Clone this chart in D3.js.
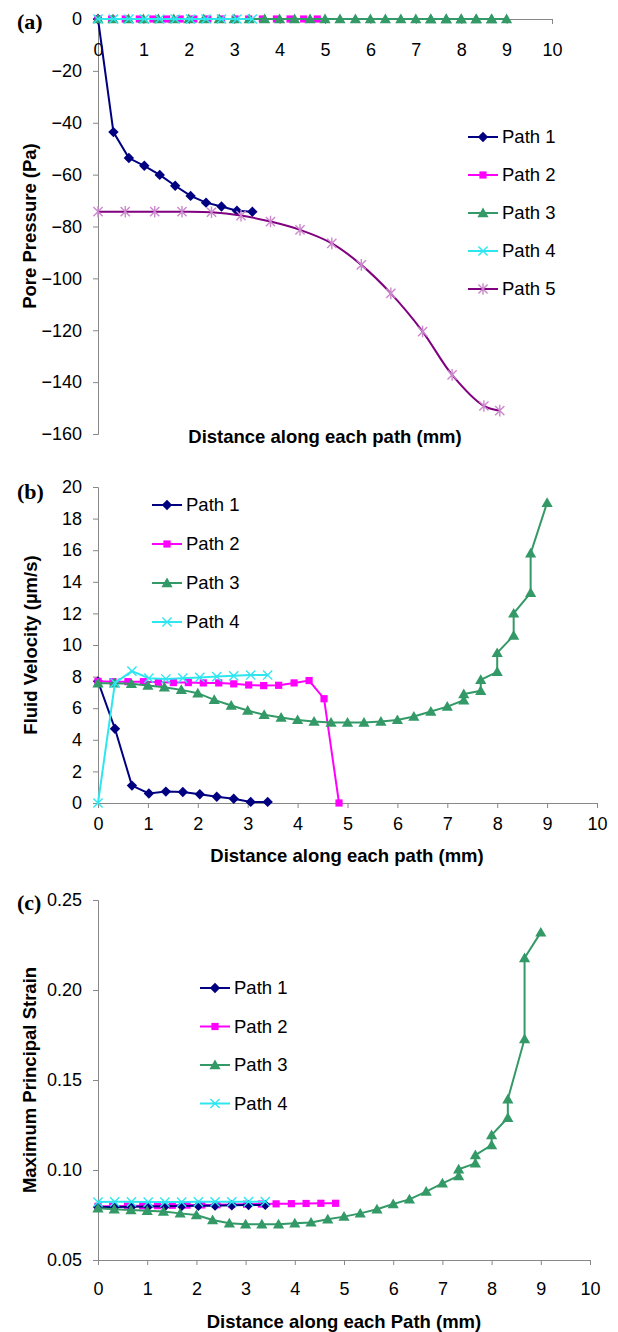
<!DOCTYPE html>
<html lang="en">
<head>
<meta charset="utf-8">
<title>Pore pressure, fluid velocity and strain along paths</title>
<script src="https://d3js.org/d3.v7.min.js"></script>
<style>
  body { margin: 0; background: #fff; }
  text { font-family: "Liberation Sans", Arial, sans-serif; fill: #000; }
  .axis path, .axis line { stroke: #888; stroke-width: 1; fill: none; }
  .axis text { font-size: 18px; }
  .title { font-size: 18.5px; font-weight: bold; }
  .legend text { font-size: 18.5px; }
  .panel { font-family: "Liberation Serif", "Times New Roman", serif; font-size: 22px; font-weight: bold; }
</style>
</head>
<body>
<script>
// distances along each path (mm)
var dist1 = [0, 0.34, 0.68, 1.02, 1.36, 1.7, 2.04, 2.38, 2.72, 3.06, 3.4];
var dist2 = [0, 0.3, 0.6, 0.91, 1.21, 1.51, 1.81, 2.11, 2.42, 2.72, 3.02, 3.32, 3.62, 3.93, 4.23, 4.53, 4.83];
var dist3 = [0, 0.33, 0.67, 1, 1.33, 1.67, 2, 2.33, 2.67, 3, 3.33, 3.67, 4, 4.33, 4.67, 5, 5.33, 5.67, 6, 6.33, 6.67, 7,
             7.33, 7.33, 7.67, 7.67, 8, 8, 8.33, 8.33, 8.67, 8.67, 9];
var dist4 = [0, 0.34, 0.68, 1.02, 1.36, 1.7, 2.04, 2.38, 2.72, 3.06, 3.4];
var dist5 = [0, 0.6, 1.25, 1.85, 2.5, 3.15, 3.8, 4.45, 5.15, 5.8, 6.45, 7.15, 7.8, 8.5, 8.85];

// (a) pore pressure (Pa)
var pressure1 = [0, -43.6, -53.6, -56.6, -60.1, -64.3, -68.2, -70.8, -72.3, -73.9, -74.3];
var pressure2 = [0, 0, 0, 0, 0, 0, 0, 0, 0, 0, 0, 0, 0, 0, 0, 0, 0];
var pressure3 = [0, 0, 0, 0, 0, 0, 0, 0, 0, 0, 0, 0, 0, 0, 0, 0, 0, 0, 0, 0, 0, 0, 0, 0, 0, 0, 0, 0, 0, 0, 0, 0, 0];
var pressure4 = [0, 0, 0, 0, 0, 0, 0, 0, 0, 0, 0];
var pressure5 = [-74.3, -74.3, -74.3, -74.3, -74.5, -75.8, -78.1, -81.3, -86.5, -94.8, -105.8, -120.5, -137.2, -149.2, -151.0];

// (b) fluid velocity (um/s)
var velocity1 = [7.7, 4.7, 1.1, 0.6, 0.72, 0.7, 0.55, 0.4, 0.27, 0.07, 0.07];
var velocity2 = [7.7, 7.68, 7.68, 7.68, 7.64, 7.62, 7.62, 7.6, 7.6, 7.54, 7.47, 7.43, 7.45, 7.6, 7.75, 6.6, 0];
var velocity3 = [7.58, 7.58, 7.54, 7.43, 7.33, 7.16, 6.95, 6.53, 6.17, 5.85, 5.58, 5.41, 5.26, 5.16, 5.09, 5.09, 5.09,
                 5.16, 5.26, 5.47, 5.79, 6.1, 6.5, 6.9, 7.1, 7.8, 8.3, 9.5, 10.6, 12.0, 13.3, 15.8, 19.0];
var velocity4 = [0, 7.6, 8.35, 7.9, 7.85, 7.9, 7.95, 8.0, 8.05, 8.1, 8.1];

// (c) maximum principal strain
var strain1 = [0.0795, 0.0795, 0.0796, 0.0797, 0.0798, 0.08, 0.0801, 0.0802, 0.0804, 0.0805, 0.0806];
var strain2 = [0.0798, 0.0799, 0.08, 0.0801, 0.0802, 0.0804, 0.0805, 0.0806, 0.0807, 0.0808, 0.081, 0.0811, 0.0812,
               0.0813, 0.0814, 0.0815, 0.0815];
var strain3 = [0.0787, 0.0782, 0.0778, 0.0774, 0.0769, 0.0759, 0.075, 0.0722, 0.0704, 0.0698, 0.0698, 0.0698, 0.0704,
               0.0709, 0.0726, 0.0741, 0.0759, 0.0782, 0.0811, 0.0837, 0.088, 0.0926, 0.0967, 0.1004, 0.1037, 0.1083,
               0.1139, 0.1194, 0.129, 0.1393, 0.1728, 0.2178, 0.232];
var strain4 = [0.0822, 0.0823, 0.0823, 0.0822, 0.0822, 0.0822, 0.0823, 0.0823, 0.0823, 0.0824, 0.0824];

var xTicks = [0, 1, 2, 3, 4, 5, 6, 7, 8, 9, 10];
var pressureTicks = [0, -20, -40, -60, -80, -100, -120, -140, -160];
var velocityTicks = [0, 2, 4, 6, 8, 10, 12, 14, 16, 18, 20];
var strainTicks = [0.05, 0.10, 0.15, 0.20, 0.25];
var pathNames = ["Path 1", "Path 2", "Path 3", "Path 4", "Path 5"];

// series look, Excel style
var styles = [
  { color: "#000080", marker: "diamond" },
  { color: "#ff00ff", marker: "square" },
  { color: "#339966", marker: "triangle" },
  { color: "#2ee6f0", marker: "cross" },
  { color: "#800080", marker: "star", markColor: "#cc88cc", smooth: true }
];

var svg = d3.select("body").append("svg")
  .attr("width", 618)
  .attr("height", 1332);

var markerPaths = {
  diamond: "M0,-5.2L5.2,0L0,5.2L-5.2,0Z",
  square: "M-3.6,-3.6h7.2v7.2h-7.2Z",
  triangle: "M0,-5.5L5.6,4.2L-5.6,4.2Z",
  cross: "M-4.6,-4.6L4.6,4.6M-4.6,4.6L4.6,-4.6",
  star: "M-4.6,-4.6L4.6,4.6M-4.6,4.6L4.6,-4.6M0,-5.8V5.8"
};

function drawMarker(g, st, x, y) {
  var p = g.append("path")
    .attr("d", markerPaths[st.marker])
    .attr("transform", "translate(" + x + "," + y + ")");
  if (st.marker == "cross" || st.marker == "star") {
    p.attr("fill", "none").attr("stroke", st.markColor || st.color).attr("stroke-width", 1.4);
  } else {
    p.attr("fill", st.color).attr("stroke", "none");
  }
}

function drawSeries(g, xs, ys, st, x, y) {
  var pts = xs.map(function(d, i) { return [d, ys[i]]; });
  var line = d3.line()
    .x(function(d) { return x(d[0]); })
    .y(function(d) { return y(d[1]); });
  if (st.smooth) line.curve(d3.curveCatmullRom.alpha(0.5));
  g.append("path")
    .attr("d", line(pts))
    .attr("fill", "none")
    .attr("stroke", st.color)
    .attr("stroke-width", 2);
  var mg = g.append("g");
  pts.forEach(function(d) { drawMarker(mg, st, x(d[0]), y(d[1])); });
}

function drawLegend(count, lx, ly, step) {
  var lg = svg.append("g").attr("class", "legend");
  for (var i = 0; i < count; i++) {
    var yy = ly + i * step;
    lg.append("line")
      .attr("x1", lx).attr("x2", lx + 30)
      .attr("y1", yy).attr("y2", yy)
      .attr("stroke", styles[i].color).attr("stroke-width", 2);
    drawMarker(lg, styles[i], lx + 15, yy);
    lg.append("text")
      .attr("x", lx + 34).attr("y", yy)
      .attr("dy", "0.35em")
      .text(pathNames[i]);
  }
}

function yTitle(txt, cx, cy) {
  svg.append("text")
    .attr("class", "title")
    .attr("transform", "translate(" + cx + "," + cy + ") rotate(-90)")
    .attr("text-anchor", "middle")
    .text(txt);
}

function xTitle(txt, cx, by) {
  svg.append("text")
    .attr("class", "title")
    .attr("x", cx).attr("y", by)
    .attr("text-anchor", "middle")
    .text(txt);
}

function panelLabel(txt, x, y) {
  svg.append("text").attr("class", "panel").attr("x", x).attr("y", y).text(txt);
}

// ---------- (a) pore pressure ----------
var xA = d3.scaleLinear().domain([0, 10]).range([98, 552]);
var yA = d3.scaleLinear().domain([-160, 0]).range([434, 19]);

svg.append("g").attr("class", "axis")
  .attr("transform", "translate(98,0)")
  .call(d3.axisLeft(yA).tickValues(pressureTicks).tickSizeOuter(0).tickSize(5).tickPadding(11));
svg.append("g").attr("class", "axis")
  .attr("transform", "translate(0," + yA(0) + ")")
  .call(d3.axisBottom(xA).tickValues(xTicks).tickSizeOuter(0).tickSize(5).tickPadding(19));

var gA = svg.append("g");
drawSeries(gA, dist1, pressure1, styles[0], xA, yA);
drawSeries(gA, dist2, pressure2, styles[1], xA, yA);
drawSeries(gA, dist3, pressure3, styles[2], xA, yA);
drawSeries(gA, dist4, pressure4, styles[3], xA, yA);
drawSeries(gA, dist5, pressure5, styles[4], xA, yA);

drawLegend(5, 468, 137, 38);
yTitle("Pore Pressure (Pa)", 36, 226);
xTitle("Distance along each path (mm)", 325, 443);
panelLabel("(a)", 17, 29);

// ---------- (b) fluid velocity ----------
var xB = d3.scaleLinear().domain([0, 10]).range([98, 597]);
var yB = d3.scaleLinear().domain([0, 20]).range([803, 487]);

svg.append("g").attr("class", "axis")
  .attr("transform", "translate(98,0)")
  .call(d3.axisLeft(yB).tickValues(velocityTicks).tickSizeOuter(0).tickSize(5).tickPadding(11));
svg.append("g").attr("class", "axis")
  .attr("transform", "translate(0," + yB(0) + ")")
  .call(d3.axisBottom(xB).tickValues(xTicks).tickSizeOuter(0).tickSize(5).tickPadding(9));

var gB = svg.append("g");
drawSeries(gB, dist1, velocity1, styles[0], xB, yB);
drawSeries(gB, dist2, velocity2, styles[1], xB, yB);
drawSeries(gB, dist3, velocity3, styles[2], xB, yB);
drawSeries(gB, dist4, velocity4, styles[3], xB, yB);

drawLegend(4, 152, 505, 39);
yTitle("Fluid Velocity (\u00b5m/s)", 37, 645);
xTitle("Distance along each path (mm)", 347, 862);
panelLabel("(b)", 17, 499);

// ---------- (c) maximum principal strain ----------
var xC = d3.scaleLinear().domain([0, 10]).range([98, 590]);
var yC = d3.scaleLinear().domain([0.05, 0.25]).range([1260, 900]);

svg.append("g").attr("class", "axis")
  .attr("transform", "translate(98,0)")
  .call(d3.axisLeft(yC).tickValues(strainTicks).tickFormat(d3.format(".2f")).tickSizeOuter(0).tickSize(5).tickPadding(11));
svg.append("g").attr("class", "axis")
  .attr("transform", "translate(0," + yC(0.05) + ")")
  .call(d3.axisBottom(xC).tickValues(xTicks).tickSizeOuter(0).tickSize(5).tickPadding(17));

var gC = svg.append("g");
drawSeries(gC, dist2, strain2, styles[1], xC, yC);
drawSeries(gC, dist1, strain1, styles[0], xC, yC);
drawSeries(gC, dist3, strain3, styles[2], xC, yC);
drawSeries(gC, dist4, strain4, styles[3], xC, yC);

drawLegend(4, 200, 988, 38.5);
yTitle("Maximum Principal Strain", 36, 1080);
xTitle("Distance along each Path (mm)", 344, 1328);
panelLabel("(c)", 17, 910);
</script>
</body>
</html>
